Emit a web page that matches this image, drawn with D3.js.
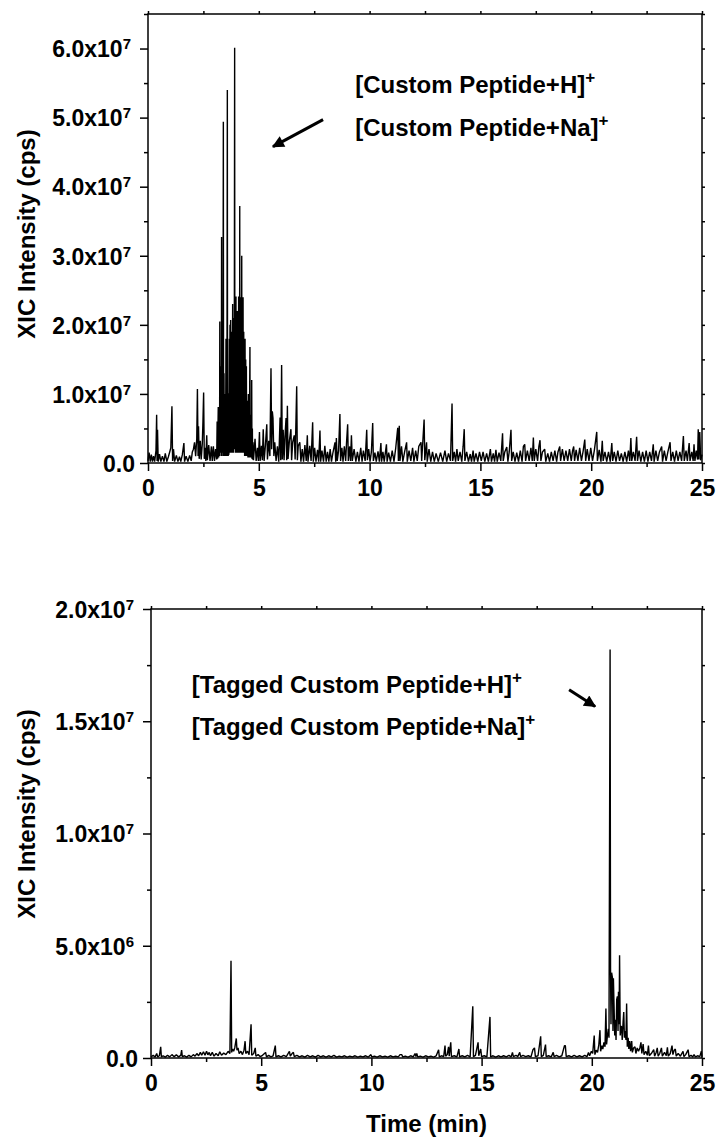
<!DOCTYPE html>
<html>
<head>
<meta charset="utf-8">
<script src="https://cdn.jsdelivr.net/npm/d3@7"></script>
<style>
body { margin:0; background:#fff; }
text { font-family: "Liberation Sans", Arial, sans-serif; font-weight: bold; fill:#000; }
</style>
</head>
<body>
<div id="chart"></div>
<script>
//top chromatogram: retention time (min) and XIC intensity (x10^6 cps)
var topTime = [0.00,0.05,0.10,0.15,0.20,0.25,0.30,0.36,0.39,0.41,0.43,0.46,0.52,0.58,0.65,0.72,0.78,0.85,0.92,0.98,
  1.03,1.08,1.11,1.15,1.20,1.28,1.35,1.42,1.48,1.55,1.62,1.65,1.72,1.80,1.88,1.95,
  2.00,2.05,2.10,2.15,2.20,2.23,2.26,2.28,2.31,2.36,2.40,2.45,2.48,2.51,2.54,2.58,2.61,2.65,2.68,2.74,2.80,2.86,2.90,2.95,
  3.00,3.05,
  3.10,3.12,3.14,3.17,3.19,3.21,3.23,3.24,3.25,3.27,
  3.28,3.30,3.31,3.32,3.33,3.35,3.36,3.37,3.38,3.40,
  3.41,3.43,3.44,3.46,3.47,3.49,3.50,3.52,3.53,3.55,
  3.56,3.58,3.59,3.61,3.62,3.64,3.65,3.67,3.68,3.70,
  3.71,3.73,3.74,3.76,3.77,3.79,3.80,3.82,3.83,3.85,
  3.86,3.88,3.89,3.91,3.92,3.94,3.95,3.97,3.98,4.00,
  4.01,4.03,4.04,4.06,4.07,4.09,4.10,4.12,4.13,4.14,
  4.15,4.17,4.18,4.20,4.21,4.23,4.24,4.26,4.27,4.29,
  4.30,4.32,4.33,4.35,4.36,4.38,4.39,4.41,4.42,4.44,
  4.45,4.47,4.48,4.50,4.51,4.53,4.54,4.56,4.57,4.60,
  4.61,4.63,4.64,4.66,4.67,4.68,4.69,4.71,4.72,4.74,
  4.76,4.83,4.88,4.94,4.98,
  5.03,5.06,5.12,5.16,5.20,5.24,5.30,5.36,5.39,5.45,5.50,5.55,5.58,5.61,5.64,5.68,5.72,5.78,5.84,5.90,5.96,5.99,
  6.03,6.06,6.10,6.14,6.18,6.23,6.26,6.29,6.32,6.38,6.45,6.48,6.53,6.60,6.64,6.71,6.74,6.78,6.85,6.90,6.96,
  7.02,7.08,7.14,7.19,7.22,7.30,7.36,7.43,7.46,7.52,7.58,7.65,7.70,7.76,7.79,7.85,7.92,7.98,
  8.04,8.10,8.16,8.22,8.28,8.34,8.44,8.47,8.50,8.54,8.60,8.66,8.69,8.75,8.80,8.86,8.92,8.96,
  9.01,9.04,9.10,9.14,9.18,9.22,9.30,9.38,9.45,9.52,9.60,9.66,9.72,9.80,9.87,9.90,9.96,
  10.02,10.08,10.14,10.17,10.24,10.30,10.38,10.44,10.51,10.54,10.60,10.66,10.76,10.79,10.86,10.94,
  11.02,11.10,11.18,11.27,11.30,11.34,11.37,11.44,11.50,11.58,11.67,11.70,11.78,11.86,11.94,
  12.00,12.08,12.15,12.22,12.32,12.35,12.46,12.49,12.57,12.60,12.68,12.76,12.84,12.92,
  13.00,13.10,13.20,13.30,13.40,13.48,13.56,13.65,13.72,13.75,13.82,13.88,13.94,
  14.00,14.08,14.16,14.22,14.27,14.30,14.38,14.46,14.54,14.60,14.67,14.72,14.80,14.88,14.96,
  15.04,15.12,15.20,15.28,15.36,15.45,15.50,15.58,15.64,15.70,15.76,15.84,15.92,
  16.00,16.03,16.10,16.19,16.24,16.30,16.38,16.41,16.48,16.56,16.64,16.72,16.80,16.88,16.94,
  17.00,17.04,17.12,17.20,17.28,17.34,17.39,17.43,17.50,17.58,17.64,17.69,17.73,17.80,17.90,17.95,
  18.04,18.12,18.20,18.28,18.36,18.44,18.50,18.58,18.62,18.70,18.78,18.86,18.94,
  19.02,19.10,19.16,19.21,19.25,19.32,19.40,19.48,19.56,19.64,19.71,19.75,19.82,19.90,19.98,
  20.06,20.14,20.25,20.28,20.36,20.44,20.50,20.54,20.62,20.70,20.78,20.86,20.93,20.97,
  21.04,21.12,21.20,21.28,21.36,21.44,21.52,21.60,21.68,21.74,21.79,21.83,21.90,21.98,
  22.05,22.09,22.16,22.24,22.32,22.40,22.48,22.56,22.64,22.72,22.80,22.84,22.92,
  23.00,23.08,23.18,23.22,23.30,23.38,23.46,23.56,23.60,23.68,23.76,23.84,23.92,
  24.00,24.08,24.16,24.20,24.28,24.34,24.42,24.46,24.54,24.60,24.64,24.68,24.74,24.80,24.83,24.86,24.90,24.94,25.00];
var topXic = [0.3,1.5,0.2,1.2,0.2,1.0,0.2,1.8,7.0,0.3,4.8,0.2,1.3,0.2,1.0,0.2,1.4,0.2,0.9,1.6,
  2.2,8.2,0.3,2.0,0.2,1.1,0.2,0.9,0.2,1.2,2.9,0.2,1.0,0.2,1.1,0.3,
  1.6,2.0,3.0,1.0,3.5,10.7,1.0,5.3,0.6,3.2,0.5,2.8,6.0,10.2,0.6,2.2,0.3,4.0,0.4,2.6,0.3,2.4,0.3,2.4,
  0.3,2.0,
  0.5,6.0,0.6,8.1,0.8,7.0,1.0,20.5,1.5,12.0,
  2.0,14.0,1.0,32.7,1.5,14.0,2.0,20.0,1.0,49.4,
  2.0,13.0,1.0,10.0,1.5,9.5,1.0,18.0,1.2,9.0,
  1.0,54.0,1.5,9.5,1.0,10.1,1.2,18.0,1.5,20.0,
  2.0,20.7,1.5,19.0,2.0,15.0,1.5,23.0,2.0,21.0,
  1.5,12.0,2.0,60.1,2.0,20.0,1.5,24.1,2.0,21.0,
  1.5,22.0,2.0,20.0,1.5,24.1,2.0,22.0,1.5,37.2,
  2.0,22.0,1.5,24.0,2.0,30.0,1.5,22.0,2.0,24.0,
  1.5,19.0,1.5,17.0,1.0,18.0,1.5,15.0,1.0,14.0,
  1.0,9.0,1.0,7.0,0.8,10.0,1.0,7.0,0.8,16.8,
  0.8,6.0,0.8,7.0,0.8,12.0,0.6,5.0,0.5,3.0,
  0.4,3.5,0.3,2.2,0.3,
  4.5,0.3,2.5,0.4,4.9,0.3,2.6,5.6,0.5,3.2,1.0,13.7,2.0,7.5,6.5,1.0,3.0,0.3,2.4,0.2,6.6,0.4,
  14.2,0.5,4.8,0.4,3.8,6.5,0.4,8.3,0.6,3.2,4.9,0.4,3.0,4.0,0.5,11.1,0.4,2.5,3.0,0.2,2.0,
  0.2,2.6,0.3,4.0,0.2,2.5,0.3,5.9,0.2,2.2,0.2,1.9,0.2,4.7,0.2,1.8,0.2,2.5,
  0.2,1.6,0.2,2.0,0.2,1.4,3.0,0.2,3.6,0.3,1.8,7.1,0.3,2.2,0.2,2.4,0.3,3.0,
  5.6,0.3,2.4,0.3,4.0,0.3,2.0,0.2,1.6,0.2,2.2,0.2,1.8,0.3,4.8,0.4,2.0,
  0.2,1.6,5.8,0.3,1.5,0.2,1.7,0.2,2.9,0.2,1.6,0.2,2.7,0.2,1.5,0.2,
  1.8,0.2,2.2,5.1,0.3,5.4,0.3,2.4,0.2,1.6,3.0,0.2,1.8,0.3,2.2,
  0.2,1.8,0.3,2.4,3.0,0.3,6.3,0.4,3.0,0.2,2.0,0.2,1.6,0.2,
  1.4,0.2,1.5,0.2,1.8,0.2,1.4,0.3,8.6,0.3,1.6,0.2,2.0,
  0.3,1.6,0.2,2.4,4.9,0.3,1.6,0.2,1.3,0.2,1.8,0.2,1.4,0.2,1.6,
  0.3,1.6,0.2,1.4,0.2,2.0,0.2,1.4,0.2,1.9,0.2,1.5,0.3,
  4.3,0.3,1.6,2.3,0.2,1.6,4.8,0.3,1.6,0.2,1.5,0.2,1.8,0.2,2.4,
  2.7,0.3,1.8,0.3,2.2,0.3,3.7,0.3,2.0,0.3,2.4,3.3,0.3,1.6,2.0,0.2,
  1.4,0.2,1.6,0.3,1.8,0.2,1.6,2.4,0.3,2.0,0.3,1.8,0.3,
  2.0,0.3,1.8,2.4,0.3,1.9,0.3,2.2,0.3,1.8,3.4,0.3,2.0,0.3,2.2,
  0.3,1.8,4.5,0.3,1.9,0.2,3.2,0.3,1.6,0.2,1.6,0.2,2.9,0.3,
  1.6,0.2,1.8,0.3,1.4,0.2,1.6,0.2,1.8,0.3,3.6,0.3,1.6,0.3,
  3.8,0.3,1.8,0.2,1.6,0.2,1.8,0.2,1.6,0.3,2.7,0.2,1.8,
  0.3,1.6,2.4,0.2,1.8,0.3,1.6,3.0,0.3,1.6,0.2,1.8,0.3,
  1.6,0.3,3.9,0.3,1.8,0.3,2.9,0.3,1.6,0.3,2.7,0.3,1.8,0.5,4.9,0.5,4.5,0.4,1.2];

//bottom chromatogram: retention time (min) and XIC intensity (x10^6 cps)
var botTime = [0.00,0.10,0.18,0.26,0.30,0.38,0.44,0.47,0.55,0.65,0.75,0.85,0.95,
  1.05,1.15,1.25,1.35,1.39,1.42,1.52,1.62,1.72,1.82,1.92,
  2.00,2.08,2.16,2.24,2.30,2.38,2.45,2.52,2.58,2.64,2.70,2.78,2.86,2.95,
  3.05,3.12,3.20,3.30,3.40,3.50,3.58,3.63,3.66,3.70,3.75,3.80,3.87,3.90,3.95,
  4.00,4.08,4.15,4.22,4.27,4.30,4.38,4.45,4.54,4.57,4.66,4.73,4.76,4.86,4.96,
  5.06,5.20,5.24,5.34,5.44,5.54,5.64,5.67,5.78,5.90,
  6.02,6.14,6.28,6.32,6.40,6.46,6.50,6.62,6.74,6.86,6.98,
  7.10,7.22,7.34,7.46,7.58,7.70,7.82,7.94,
  8.06,8.18,8.30,8.42,8.54,8.66,8.78,8.90,
  9.02,9.14,9.26,9.38,9.50,9.62,9.74,9.86,9.98,
  10.02,10.14,10.26,10.38,10.50,10.62,10.74,10.86,10.98,
  11.10,11.22,11.30,11.38,11.42,11.54,11.66,11.78,11.90,11.98,
  12.02,12.06,12.10,12.22,12.34,12.46,12.58,12.70,12.82,12.94,
  13.05,13.08,13.18,13.28,13.34,13.37,13.44,13.50,13.53,13.60,13.63,13.76,13.88,13.97,
  14.00,14.12,14.24,14.36,14.48,14.60,14.63,14.72,14.84,14.87,14.93,14.96,
  15.00,15.12,15.24,15.38,15.41,15.52,15.64,15.76,15.88,
  16.00,16.12,16.24,16.34,16.40,16.44,16.56,16.64,16.73,16.77,16.88,
  17.00,17.12,17.24,17.33,17.40,17.44,17.56,17.68,17.71,17.80,17.90,17.93,
  18.04,18.16,18.25,18.29,18.40,18.52,18.64,18.76,18.80,18.84,18.96,
  19.08,19.20,19.32,19.44,19.56,19.68,19.78,19.85,19.90,19.98,
  20.04,20.11,20.14,20.20,20.26,20.32,20.37,20.40,20.46,20.50,20.55,20.60,20.64,20.67,20.71,20.75,20.78,20.83,20.85,20.87,20.90,20.94,20.96,20.98,
  21.01,21.04,21.07,21.10,21.13,21.16,21.19,21.21,21.24,21.26,21.29,21.32,21.35,21.38,21.42,21.45,21.48,21.51,21.55,21.58,21.61,21.65,21.68,21.72,21.76,21.81,21.84,21.90,21.96,
  22.00,22.06,22.12,22.18,22.23,22.27,22.33,22.37,22.45,22.52,22.57,22.61,22.70,22.81,22.85,22.92,22.97,
  23.01,23.08,23.16,23.20,23.30,23.38,23.43,23.47,23.56,23.64,23.68,23.74,23.79,23.83,23.92,
  24.02,24.14,24.18,24.26,24.37,24.41,24.50,24.58,24.64,24.70,24.80,24.90,24.97,25.00];
var botXic = [0.05,0.12,0.04,0.20,0.05,0.10,0.50,0.05,0.10,0.04,0.12,0.05,0.15,
  0.06,0.14,0.05,0.12,0.35,0.06,0.10,0.04,0.12,0.05,0.15,
  0.08,0.20,0.10,0.25,0.12,0.28,0.12,0.30,0.14,0.25,0.10,0.25,0.08,0.20,
  0.10,0.28,0.12,0.22,0.15,0.30,0.20,4.33,0.25,0.40,0.30,0.45,0.87,0.35,0.45,
  0.20,0.30,0.15,0.35,0.75,0.20,0.30,0.15,1.50,0.12,0.20,0.45,0.08,0.15,0.06,
  0.12,0.25,0.05,0.12,0.05,0.10,0.55,0.05,0.10,0.05,
  0.12,0.06,0.30,0.08,0.20,0.25,0.06,0.12,0.05,0.10,0.04,
  0.12,0.05,0.10,0.04,0.12,0.05,0.10,0.04,
  0.10,0.05,0.12,0.04,0.08,0.05,0.10,0.04,
  0.08,0.05,0.10,0.04,0.08,0.05,0.10,0.04,0.15,
  0.05,0.08,0.04,0.10,0.05,0.08,0.04,0.10,0.05,
  0.08,0.05,0.15,0.15,0.05,0.08,0.04,0.10,0.05,0.20,
  0.06,0.20,0.05,0.08,0.04,0.10,0.05,0.08,0.04,0.10,
  0.37,0.05,0.10,0.06,0.55,0.08,0.15,0.50,0.08,0.70,0.06,0.10,0.05,0.40,
  0.05,0.10,0.05,0.12,0.05,2.30,0.06,0.12,0.70,0.10,0.30,0.40,
  0.06,0.10,0.05,1.83,0.05,0.10,0.04,0.10,0.05,
  0.10,0.05,0.12,0.05,0.25,0.06,0.12,0.06,0.25,0.06,0.12,
  0.06,0.10,0.05,0.37,0.45,0.06,0.10,0.97,0.06,0.12,0.60,0.06,
  0.10,0.05,0.25,0.06,0.12,0.05,0.10,0.55,0.55,0.06,0.10,
  0.05,0.12,0.05,0.10,0.05,0.12,0.06,0.25,0.10,0.30,
  0.20,1.00,0.15,0.35,0.25,0.60,1.24,0.30,0.55,0.40,0.70,0.50,2.20,0.60,1.00,1.30,0.90,18.2,4.0,1.5,3.8,3.55,1.2,3.55,
  2.3,1.0,1.7,0.8,2.6,2.75,1.2,2.95,1.5,4.58,1.0,1.4,1.4,0.8,1.6,2.05,0.9,1.2,0.8,2.43,0.5,0.9,0.4,0.75,0.3,0.75,0.25,0.45,0.50,
  0.20,0.45,0.30,0.45,0.70,0.20,0.62,0.15,0.30,0.12,0.55,0.10,0.20,0.37,0.08,0.25,0.45,
  0.08,0.20,0.45,0.08,0.25,0.10,0.48,0.08,0.20,0.55,0.15,0.35,0.40,0.08,0.20,
  0.08,0.30,0.06,0.15,0.37,0.06,0.12,0.05,0.15,0.05,0.10,0.06,0.30,0.05];

//axis ticks
var xMajor = [0, 5, 10, 15, 20, 25];
var xMinor = [2.5, 7.5, 12.5, 17.5, 22.5];
var topYMajor = [0, 1e7, 2e7, 3e7, 4e7, 5e7, 6e7];
var topYMinor = [0.5e7, 1.5e7, 2.5e7, 3.5e7, 4.5e7, 5.5e7, 6.5e7];
var botYMajor = [0, 5e6, 1e7, 1.5e7, 2e7];
var botYMinor = [2.5e6, 7.5e6, 1.25e7, 1.75e7];

//annotation texts and where they sit (time, intensity)
var topNotes = ["[Custom Peptide+H]", "[Custom Peptide+Na]"];
var topNoteAt = [[9.35, 5.36e7], [9.35, 4.74e7]];
var topArrow = [[7.9, 4.97e7], [5.64, 4.58e7]];
var botNotes = ["[Tagged Custom Peptide+H]", "[Tagged Custom Peptide+Na]"];
var botNoteAt = [[1.85, 1.628e7], [1.85, 1.44e7]];
var botArrow = [[18.97, 1.64e7], [20.15, 1.566e7]];

var svg = d3.select("#chart").append("svg")
    .attr("width", 718)
    .attr("height", 1142);

//arrow head
svg.append("defs").append("marker")
    .attr("id", "head")
    .attr("viewBox", "0 0 10 10")
    .attr("refX", 9).attr("refY", 5)
    .attr("markerWidth", 5).attr("markerHeight", 4)
    .attr("markerUnits", "strokeWidth")
    .attr("orient", "auto")
    .append("path").attr("d", "M0,0 L10,5 L0,10 z").attr("fill", "#000");

//turn 6e7 into "6.0x10" with a raised 7
function sciLabel(sel, d) {
  sel.text(null);
  if (d === 0) { sel.append("tspan").text("0.0"); return; }
  var e = Math.floor(Math.log10(d) + 1e-9);
  var m = d / Math.pow(10, e);
  sel.append("tspan").text(m.toFixed(1) + "x10");
  sel.append("tspan").attr("dy", -8).attr("font-size", 15).text(e);
}

function drawPanel(p) {
  var x = d3.scaleLinear().domain([0, 25]).range([p.left, p.right]);
  var y = d3.scaleLinear().domain([0, p.yMax]).range([p.bottom, p.top]);
  var g = svg.append("g");

  //trace
  var pts = p.time.map(function(t, i) { return [t, p.xic[i] * 1e6]; });
  g.append("path")
    .datum(pts)
    .attr("fill", "none")
    .attr("stroke", "#000")
    .attr("stroke-width", 1.4)
    .attr("stroke-linejoin", "bevel")
    .attr("d", d3.line().x(function(d) { return x(d[0]); }).y(function(d) { return y(d[1]); }));

  //bottom axis, major and minor ticks
  var xb = g.append("g").attr("transform", "translate(0," + p.bottom + ")")
    .call(d3.axisBottom(x).tickValues(xMajor).tickSize(8).tickPadding(9).tickFormat(d3.format("d")));
  xb.selectAll("text").attr("font-size", 23);
  g.append("g").attr("transform", "translate(0," + p.bottom + ")")
    .call(d3.axisBottom(x).tickValues(xMinor).tickSize(4).tickFormat(""));

  //left axis
  var yl = g.append("g").attr("transform", "translate(" + p.left + ",0)")
    .call(d3.axisLeft(y).tickValues(p.yMajor).tickSize(8).tickPadding(6));
  yl.selectAll("text")
    .attr("font-size", 23)
    .attr("dy", "0.36em")
    .attr("x", function(d) { return d === 0 ? -13 : -17; })
    .each(function(d) { sciLabel(d3.select(this), d); });
  g.append("g").attr("transform", "translate(" + p.left + ",0)")
    .call(d3.axisLeft(y).tickValues(p.yMinor).tickSize(4).tickFormat(""));

  //mirror axes on top and right, small ticks only
  g.append("g").attr("transform", "translate(0," + p.top + ")")
    .call(d3.axisTop(x).tickValues(xMajor.concat(xMinor)).tickSize(3).tickFormat(""));
  g.append("g").attr("transform", "translate(" + p.right + ",0)")
    .call(d3.axisRight(y).tickValues(p.yMajor.concat(p.yMinor)).tickSize(3).tickFormat(""));

  g.selectAll(".domain").remove();
  g.selectAll(".tick line").attr("stroke", "#000").attr("stroke-width", 1.5);
  g.selectAll(".tick text").attr("fill", "#000").attr("font-family", null);

  //frame
  g.append("rect")
    .attr("x", p.left).attr("y", p.top)
    .attr("width", p.right - p.left).attr("height", p.bottom - p.top)
    .attr("fill", "none").attr("stroke", "#000").attr("stroke-width", 1.5);

  //y title
  g.append("text")
    .attr("transform", "translate(35," + p.titleY + ") rotate(-90)")
    .attr("text-anchor", "middle")
    .attr("font-size", 24)
    .text("XIC Intensity (cps)");

  //annotation lines with superscript +
  p.notes.forEach(function(s, i) {
    var t = g.append("text")
      .attr("x", x(p.noteAt[i][0]))
      .attr("y", y(p.noteAt[i][1]))
      .attr("font-size", 24);
    t.append("tspan").text(s);
    t.append("tspan").attr("dy", -10).attr("font-size", 17).text("+");
  });

  //arrow
  g.append("line")
    .attr("x1", x(p.arrow[0][0])).attr("y1", y(p.arrow[0][1]))
    .attr("x2", x(p.arrow[1][0])).attr("y2", y(p.arrow[1][1]))
    .attr("stroke", "#000").attr("stroke-width", 3)
    .attr("marker-end", "url(#head)");

  return x;
}

drawPanel({left: 148, right: 702, top: 14, bottom: 463, yMax: 6.5e7,
  yMajor: topYMajor, yMinor: topYMinor, time: topTime, xic: topXic,
  notes: topNotes, noteAt: topNoteAt, arrow: topArrow, titleY: 234});

drawPanel({left: 151, right: 702, top: 609, bottom: 1058, yMax: 2e7,
  yMajor: botYMajor, yMinor: botYMinor, time: botTime, xic: botXic,
  notes: botNotes, noteAt: botNoteAt, arrow: botArrow, titleY: 814});

//x title under the bottom panel
svg.append("text")
  .attr("x", 426.5)
  .attr("y", 1132)
  .attr("text-anchor", "middle")
  .attr("font-size", 24)
  .text("Time (min)");
</script>
</body>
</html>
